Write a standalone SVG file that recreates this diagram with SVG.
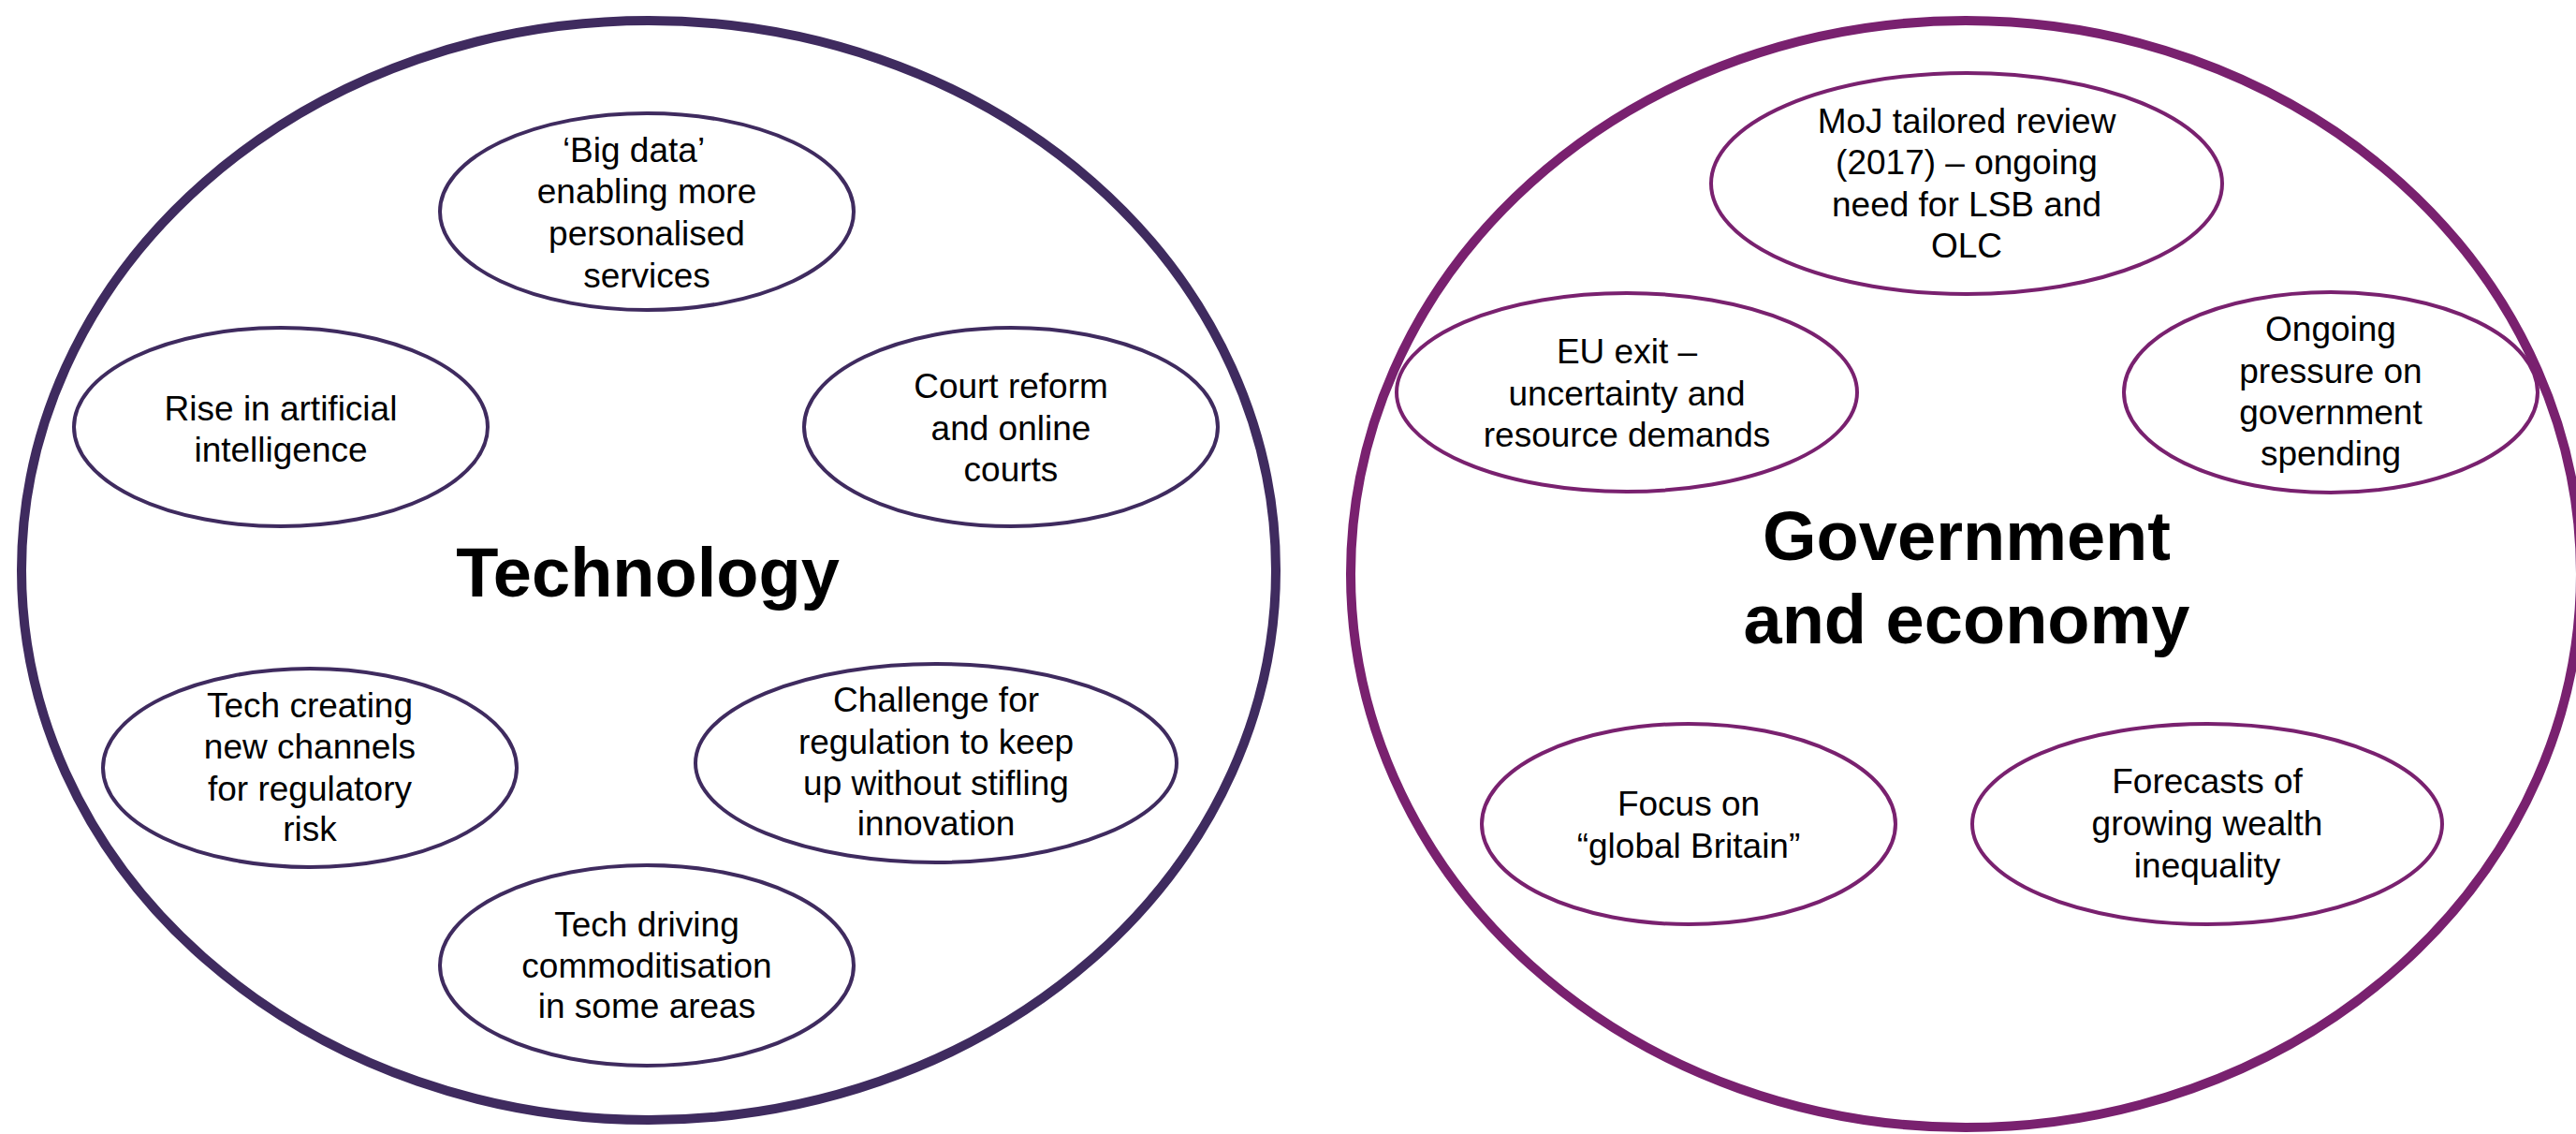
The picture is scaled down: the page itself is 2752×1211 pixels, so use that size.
<svg xmlns="http://www.w3.org/2000/svg" width="2752" height="1211" viewBox="0 0 2752 1211">
<style>
.big{fill:#fff;stroke-width:10}
.sm{fill:#fff;stroke-width:4}
.tech{stroke:#3f2b5f}
.gov{stroke:#79216f}
.t{font-family:"Liberation Sans",Arial,sans-serif;font-size:37px;fill:#000;text-anchor:middle}
.h{font-family:"Liberation Sans",Arial,sans-serif;font-size:74px;font-weight:bold;fill:#000;text-anchor:middle}
</style>
<rect width="2752" height="1211" fill="#fff"/>
<g id="technology">
<ellipse class="big tech" cx="693" cy="609" rx="670" ry="587"/>
<text class="h" x="692" y="637">Technology</text>
</g>
<g id="government">
<ellipse class="big gov" cx="2100" cy="613" rx="657" ry="591"/>
<text class="h" x="2101" y="598">Government</text>
<text class="h" x="2101" y="687">and economy</text>
</g>
<g id="connectors"></g>
<g id="big-data">
<ellipse class="sm tech" cx="691" cy="226" rx="221" ry="105"/>
<text class="t" x="677" y="173">‘Big data’</text>
<text class="t" x="691" y="217">enabling more</text>
<text class="t" x="691" y="262">personalised</text>
<text class="t" x="691" y="307">services</text>
</g>
<g id="ai">
<ellipse class="sm tech" cx="300" cy="456" rx="221" ry="106"/>
<text class="t" x="300" y="449">Rise in artificial</text>
<text class="t" x="300" y="493">intelligence</text>
</g>
<g id="court">
<ellipse class="sm tech" cx="1080" cy="456" rx="221" ry="106"/>
<text class="t" x="1080" y="425">Court reform</text>
<text class="t" x="1080" y="470">and online</text>
<text class="t" x="1080" y="514">courts</text>
</g>
<g id="channels">
<ellipse class="sm tech" cx="331" cy="820" rx="221" ry="106"/>
<text class="t" x="331" y="766">Tech creating</text>
<text class="t" x="331" y="810">new channels</text>
<text class="t" x="331" y="855">for regulatory</text>
<text class="t" x="331" y="898">risk</text>
</g>
<g id="challenge">
<ellipse class="sm tech" cx="1000" cy="815" rx="257" ry="106"/>
<text class="t" x="1000" y="760">Challenge for</text>
<text class="t" x="1000" y="805">regulation to keep</text>
<text class="t" x="1000" y="849">up without stifling</text>
<text class="t" x="1000" y="892">innovation</text>
</g>
<g id="commoditisation">
<ellipse class="sm tech" cx="691" cy="1031" rx="221" ry="107"/>
<text class="t" x="691" y="1000">Tech driving</text>
<text class="t" x="691" y="1044">commoditisation</text>
<text class="t" x="691" y="1087">in some areas</text>
</g>
<g id="moj">
<ellipse class="sm gov" cx="2101" cy="196" rx="273" ry="118"/>
<text class="t" x="2101" y="142">MoJ tailored review</text>
<text class="t" x="2101" y="186">(2017) – ongoing</text>
<text class="t" x="2101" y="231">need for LSB and</text>
<text class="t" x="2101" y="275">OLC</text>
</g>
<g id="eu-exit">
<ellipse class="sm gov" cx="1738" cy="419" rx="246" ry="106"/>
<text class="t" x="1738" y="388">EU exit –</text>
<text class="t" x="1738" y="433">uncertainty and</text>
<text class="t" x="1738" y="477">resource demands</text>
</g>
<g id="spending">
<ellipse class="sm gov" cx="2490" cy="419" rx="221" ry="107"/>
<text class="t" x="2490" y="364">Ongoing</text>
<text class="t" x="2490" y="409">pressure on</text>
<text class="t" x="2490" y="453">government</text>
<text class="t" x="2490" y="497">spending</text>
</g>
<g id="global-britain">
<ellipse class="sm gov" cx="1804" cy="880" rx="221" ry="107"/>
<text class="t" x="1804" y="871">Focus on</text>
<text class="t" x="1804" y="916">“global Britain”</text>
</g>
<g id="inequality">
<ellipse class="sm gov" cx="2358" cy="880" rx="251" ry="107"/>
<text class="t" x="2358" y="847">Forecasts of</text>
<text class="t" x="2358" y="892">growing wealth</text>
<text class="t" x="2358" y="937">inequality</text>
</g>
</svg>
